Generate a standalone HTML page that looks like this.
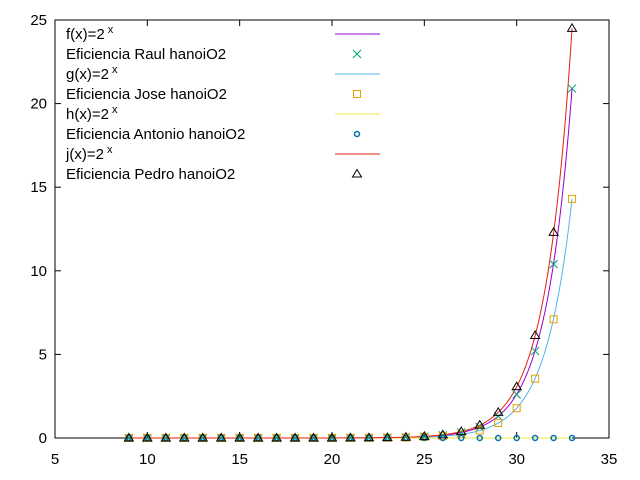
<!DOCTYPE html>
<html><head><meta charset="utf-8"><style>
html,body{margin:0;padding:0;background:#fff}
svg{display:block;font-family:"Liberation Sans",sans-serif}
</style></head><body>
<svg id="chart" width="640" height="480">
<g id="frame"></g>
<g id="curves"></g>
<g id="points"></g>
<g id="legend"></g>
</svg>
<script>
const xs = [9,10,11,12,13,14,15,16,17,18,19,20,21,22,23,24,25,26,27,28,29,30,31,32,33];
const raul = [0.0000012,0.0000025,0.000005,0.00001,0.00002,0.00004,0.00008,0.00016,0.00032,0.00064,0.0013,0.0026,0.0051,0.01,0.02,0.04,0.08,0.16,0.33,0.65,1.3,2.6,5.2,10.4,20.9];
const jose = [0.00000085,0.0000017,0.0000034,0.0000068,0.000014,0.000027,0.000055,0.00011,0.00022,0.00044,0.00087,0.0017,0.0035,0.007,0.014,0.028,0.056,0.11,0.22,0.45,0.9,1.78,3.55,7.1,14.3];
const antonio = [0,0,0,0,0,0,0,0,0,0,0,0,0,0,0,0,0,0,0,0,0,0,0.0001,0.0002,0.0004];
const pedro = [0.0000015,0.000003,0.000006,0.000012,0.000024,0.000047,0.000094,0.00019,0.00037,0.00075,0.0015,0.003,0.006,0.012,0.024,0.048,0.096,0.19,0.38,0.77,1.53,3.07,6.13,12.3,24.5];
const xTicks = [5,10,15,20,25,30,35];
const yTicks = [0,5,10,15,20,25];

const L=55,R=609,T=20,B=438;
const X=v=>L+(v-5)/30*(R-L);
const Y=v=>B-v/25*(B-T);
const NS="http://www.w3.org/2000/svg";
function mk(tag,attrs,parent){const e=document.createElementNS(NS,tag);for(const k in attrs)e.setAttribute(k,attrs[k]);parent.appendChild(e);return e;}
const frame=document.getElementById('frame'),curves=document.getElementById('curves'),points=document.getElementById('points'),legend=document.getElementById('legend');

let r=mk('rect',{x:L,y:T,width:R-L,height:B-T,fill:'none',stroke:'#000','stroke-width':1},frame);


xTicks.forEach(t=>{
  const x=X(t);
  mk('line',{x1:x,y1:B,x2:x,y2:B-6,stroke:'#000'},frame);
  mk('line',{x1:x,y1:T,x2:x,y2:T+6,stroke:'#000'},frame);
  const tx=mk('text',{x:x,y:B+26,'text-anchor':'middle','font-size':15},frame);
  tx.textContent=t;
  
  
});
yTicks.forEach(t=>{
  const y=Y(t);
  mk('line',{x1:L,y1:y,x2:L+6,y2:y,stroke:'#000'},frame);
  mk('line',{x1:R,y1:y,x2:R-6,y2:y,stroke:'#000'},frame);
  const tx=mk('text',{x:47,y:y+5,'text-anchor':'end','font-size':15},frame);
  tx.textContent=t;
  
  
});

function curve(series,color,name){
  const a=series[series.length-1]/Math.pow(2,xs[xs.length-1]);
  let d='';
  for(let x=xs[0];x<=xs[xs.length-1]+1e-9;x+=0.1){d+=(d?'L':'M')+X(x).toFixed(2)+','+Y(a*Math.pow(2,x)).toFixed(2);}
  const p=mk('path',{d:d,fill:'none',stroke:color,'stroke-width':1},curves);
  
  
}
curve(raul,'#9400d3','f-curve');
curve(jose,'#56b4e9','g-curve');
curve(antonio,'#f0e442','h-curve');
curve(pedro,'#e51e10','j-curve');

function marker(kind,cx,cy,g){
  if(kind==='x'){mk('path',{d:`M${cx-4},${cy-4}L${cx+4},${cy+4}M${cx-4},${cy+4}L${cx+4},${cy-4}`,stroke:'#009e73',fill:'none'},g);}
  else if(kind==='sq'){mk('rect',{x:cx-3.5,y:cy-3.5,width:7,height:7,stroke:'#e69f00',fill:'none'},g);}
  else if(kind==='o'){mk('circle',{cx:cx,cy:cy,r:2.5,stroke:'#0072b2','stroke-width':1.5,fill:'none'},g);}
  else {mk('path',{d:`M${cx},${cy-4.5}L${cx+4.5},${cy+3}L${cx-4.5},${cy+3}Z`,stroke:'#000',fill:'none'},g);}
}
function pts(series,kind,name){
  series.forEach((v,i)=>{
    const g=mk('g',{},points);
    
    
    marker(kind,X(xs[i]),Y(v),g);
  });
}
pts(raul,'x','raul-point');
pts(jose,'sq','jose-point');
pts(antonio,'o','antonio-point');
pts(pedro,'tri','pedro-point');

const entries=[['f(x)=2','line','#9400d3'],['Eficiencia Raul hanoiO2','x'],['g(x)=2','line','#56b4e9'],['Eficiencia Jose hanoiO2','sq'],['h(x)=2','line','#f0e442'],['Eficiencia Antonio hanoiO2','o'],['j(x)=2','line','#e51e10'],['Eficiencia Pedro hanoiO2','tri']];
entries.forEach((e,i)=>{
  const y=34+i*20;
  const g=mk('g',{},legend);
  
  
  const t=mk('text',{x:66,y:y+5,'font-size':15},g);
  t.textContent=e[0];
  if(e[1]==='line'){
    const s=mk('tspan',{dy:-6,'font-size':11,dx:3},t);s.textContent='x';
    mk('line',{x1:335,y1:y,x2:380,y2:y,stroke:e[2]},g);
  } else marker(e[1],357,y,g);
});
</script>
</body></html>
